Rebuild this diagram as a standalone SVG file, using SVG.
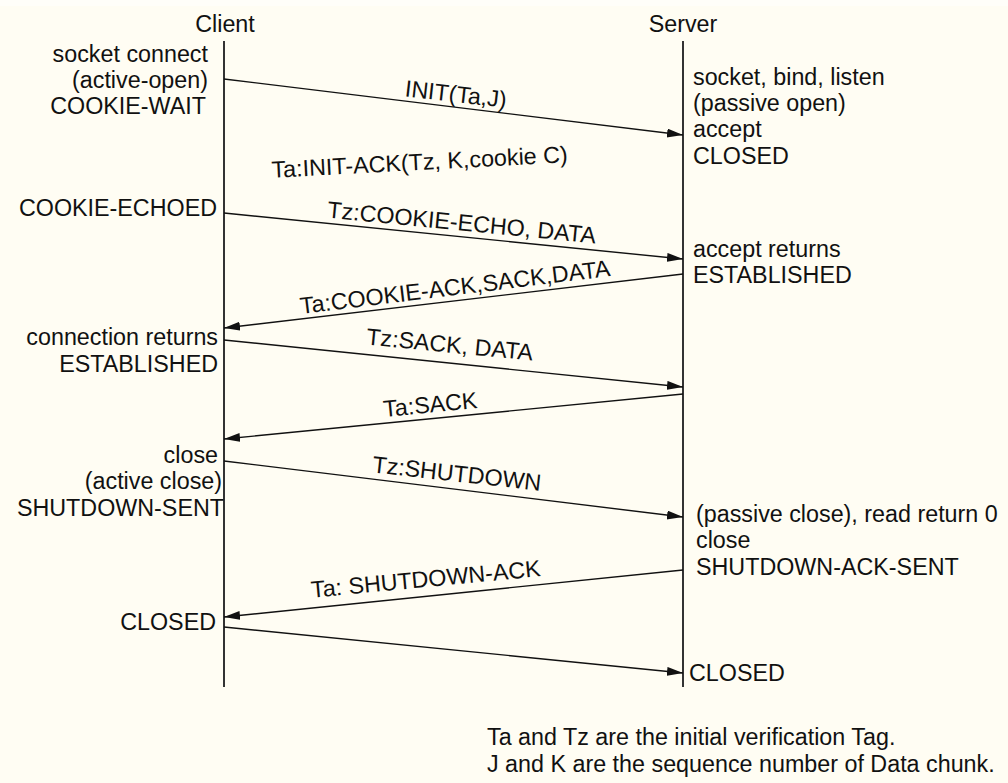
<svg xmlns="http://www.w3.org/2000/svg" width="1008" height="783" viewBox="0 0 1008 783">
  <style>
    text { font-family: "Liberation Sans", Arial, sans-serif; font-size: 23.3px; fill: #111; }
    .lifeline { stroke: #333; stroke-width: 2; fill: none; }
    .msg { stroke: #111; stroke-width: 1.4; fill: none; marker-end: url(#head); }
    .end { text-anchor: end; }
    .mid { text-anchor: middle; }
  </style>
  <defs>
    <marker id="head" markerUnits="userSpaceOnUse" markerWidth="17" markerHeight="10" refX="16" refY="4.5" orient="auto">
      <path d="M0,0 L16,4.5 L0,9 z" fill="#111"/>
    </marker>
  </defs>

  <!-- paper -->
  <rect x="0" y="0" width="1008" height="783" fill="#fffef9"/>
  <rect x="0" y="6" width="1008" height="777" fill="#fffdf3"/>

  <!-- client lifeline and states -->
  <g id="client">
    <text class="mid" x="225" y="32">Client</text>
    <line class="lifeline" x1="224" y1="41" x2="224" y2="687"/>
    <text class="end" x="208" y="62">socket connect</text>
    <text class="end" x="208" y="88">(active-open)</text>
    <text class="end" x="206" y="114">COOKIE-WAIT</text>
    <text class="end" x="217" y="216">COOKIE-ECHOED</text>
    <text class="end" x="218" y="345">connection returns</text>
    <text class="end" x="218" y="372">ESTABLISHED</text>
    <text class="end" x="218" y="463">close</text>
    <text class="end" x="222" y="489">(active close)</text>
    <text class="end" x="224" y="516">SHUTDOWN-SENT</text>
    <text class="end" x="216" y="630">CLOSED</text>
  </g>

  <!-- server lifeline and states -->
  <g id="server">
    <text class="mid" x="683" y="32">Server</text>
    <line class="lifeline" x1="683" y1="41" x2="683" y2="687"/>
    <text x="693" y="85">socket, bind, listen</text>
    <text x="693" y="111">(passive open)</text>
    <text x="693" y="137">accept</text>
    <text x="693" y="164">CLOSED</text>
    <text x="693" y="257">accept returns</text>
    <text x="693" y="283">ESTABLISHED</text>
    <text x="696" y="522">(passive close), read return 0</text>
    <text x="696" y="548">close</text>
    <text x="696" y="575">SHUTDOWN-ACK-SENT</text>
    <text x="689" y="681">CLOSED</text>
  </g>

  <!-- messages between the two endpoints -->
  <g id="connectors">
    <line class="msg" x1="224" y1="79" x2="683" y2="135"/>
    <line class="msg" x1="224" y1="213" x2="683" y2="259"/>
    <line class="msg" x1="683" y1="274" x2="224" y2="328"/>
    <line class="msg" x1="224" y1="340" x2="683" y2="387"/>
    <line class="msg" x1="683" y1="394" x2="224" y2="439"/>
    <line class="msg" x1="224" y1="461" x2="683" y2="517"/>
    <line class="msg" x1="683" y1="570" x2="224" y2="617"/>
    <line class="msg" x1="224" y1="627" x2="683" y2="673"/>
  </g>

  <!-- message labels -->
  <g id="labels">
    <text class="mid" transform="translate(455 102) rotate(6.5)">INIT(Ta,J)</text>
    <text class="mid" transform="translate(420 170) rotate(-3)">Ta:INIT-ACK(Tz, K,cookie C)</text>
    <text class="mid" transform="translate(461 230.5) rotate(5.5)">Tz:COOKIE-ECHO, DATA</text>
    <text class="mid" transform="translate(456 295) rotate(-7)">Ta:COOKIE-ACK,SACK,DATA</text>
    <text class="mid" transform="translate(449 352.5) rotate(5.5)">Tz:SACK, DATA</text>
    <text class="mid" transform="translate(431 412.5) rotate(-5.5)">Ta:SACK</text>
    <text class="mid" transform="translate(456 481.5) rotate(6.3)">Tz:SHUTDOWN</text>
    <text class="mid" transform="translate(426.5 587) rotate(-5.4)">Ta: SHUTDOWN-ACK</text>
  </g>

  <!-- legend -->
  <g id="note">
    <text x="487" y="745">Ta and Tz are the initial verification Tag.</text>
    <text x="487" y="772">J and K are the sequence number of Data chunk.</text>
  </g>
</svg>
